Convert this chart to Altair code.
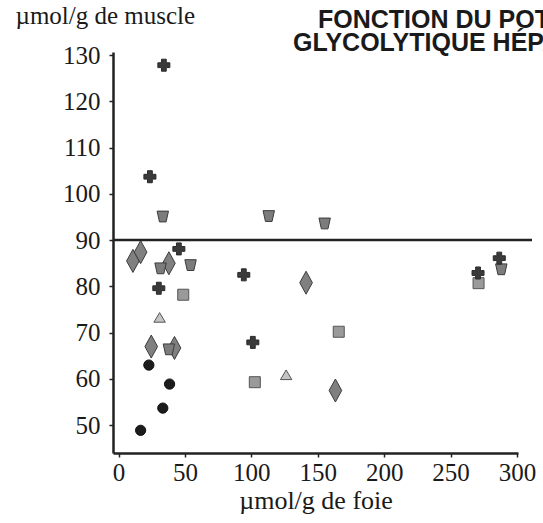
import altair as alt
import pandas as pd

# ---- data ----
cross_x = [34.1, 23.6, 45.4, 30.3, 94.3, 101.1, 270.7, 286.7]
cross_y = [127.8, 103.7, 88.1, 79.6, 82.5, 67.9, 82.9, 86.1]

tridown_x = [33.3, 113.1, 155.2, 31.6, 54.2, 37.9, 288.2]
tridown_y = [95.1, 95.2, 93.6, 83.9, 84.6, 66.4, 83.7]

diamond_x = [10.8, 16.6, 37.9, 24.6, 42.1, 141.2, 163.3]
diamond_y = [85.5, 87.4, 85.0, 67.0, 66.7, 80.8, 57.5]

square_x = [48.7, 165.8, 102.6, 271.1]
square_y = [78.2, 70.2, 59.3, 80.7]

triup_x = [30.9, 126.2]
triup_y = [73.3, 60.9]

circle_x = [22.8, 38.4, 33.3, 16.6]
circle_y = [63.0, 58.9, 53.7, 48.9]

threshold = [90]
y_ticks = [50, 60, 70, 80, 90, 100, 110, 120, 130]
x_ticks = [0, 50, 100, 150, 200, 250, 300]

x_title = "µmol/g de foie"
y_title = "µmol/g de muscle"
header = ["FONCTION DU POTENTIEL", "GLYCOLYTIQUE HÉPATIQUE"]

# ---- styling ----
W, H = 405, 401
SERIF = "Liberation Serif"
xscale = alt.Scale(domain=[-4.2, 300.8], nice=False, zero=False)
yscale = alt.Scale(domain=[44, 130.65], nice=False, zero=False)

CROSS = "M-0.4,-1H0.4V-0.4H1V0.4H0.4V1H-0.4V0.4H-1V-0.4H-0.4Z"
DIAMOND = "M0,-1L0.55,0L0,1L-0.55,0Z"
TRIDOWN = "M-0.95,-0.9L0.95,-0.9L0.55,0.9L-0.55,0.9Z"
TRIUP = "M0,-0.8L0.95,0.8L-0.95,0.8Z"

series = [
    (diamond_x, diamond_y, DIAMOND, 529, "#808080", "#3c3c3c"),
    (square_x, square_y, "square", 121, "#9a9a9a", "#555555"),
    (triup_x, triup_y, TRIUP, 144, "#c4c4c4", "#555555"),
    (tridown_x, tridown_y, TRIDOWN, 144, "#7c7c7c", "#3c3c3c"),
    (cross_x, cross_y, CROSS, 144, "#3a3a3a", "#2a2a2a"),
    (circle_x, circle_y, "circle", 105, "#1c1c1c", "#111111"),
]

x_axis = alt.Axis(
    values=x_ticks, grid=False, title=x_title, labelFont=SERIF, labelFontSize=25,
    titleFont=SERIF, titleFontSize=26, titleFontWeight="normal", labelColor="#1a1a1a",
    titleColor="#1a1a1a", domainColor="#222", domainWidth=2.5, tickColor="#222",
    tickWidth=1.5, tickSize=4, labelPadding=3, titleBaseline="alphabetic", titleY=55,
    labelFlush=False,
)
y_axis = alt.Axis(
    values=y_ticks, grid=False, title=y_title, labelFont=SERIF, labelFontSize=25,
    titleFont=SERIF, titleFontSize=25, titleFontWeight="normal", labelColor="#1a1a1a",
    titleColor="#1a1a1a", domainColor="#222", domainWidth=2.5, tickColor="#222",
    tickWidth=1.5, tickSize=4, labelPadding=9, titleAngle=0, titleAlign="left",
    titleBaseline="alphabetic", titleX=-98, titleY=-29, labelFlush=False,
)

layers = []
for xs, ys, shape, size, fill, stroke in series:
    df = pd.DataFrame({"x": xs, "y": ys})
    layers.append(
        alt.Chart(df).mark_point(
            shape=shape, size=size, filled=True, fill=fill, stroke=stroke,
            strokeWidth=1, opacity=1, clip=False,
        ).encode(
            x=alt.X("x:Q", scale=xscale, axis=x_axis),
            y=alt.Y("y:Q", scale=yscale, axis=y_axis),
        )
    )

rule = alt.Chart(pd.DataFrame({"y": threshold})).mark_rule(
    color="#222", strokeWidth=2.5
).encode(
    y=alt.Y("y:Q", scale=yscale, axis=y_axis),
    x=alt.value(0), x2=alt.value(419),
)

head1 = alt.Chart(pd.DataFrame({"t": [header[0]]})).mark_text(
    font="Liberation Sans", fontWeight="bold", fontSize=25, align="left",
    baseline="alphabetic", color="#1a1a1a",
).encode(text="t:N", x=alt.value(205), y=alt.value(-24))
head2 = alt.Chart(pd.DataFrame({"t": [header[1]]})).mark_text(
    font="Liberation Sans", fontWeight="bold", fontSize=25, align="left",
    baseline="alphabetic", color="#1a1a1a",
).encode(text="t:N", x=alt.value(180), y=alt.value(-1))

chart = alt.layer(*layers, rule, head1, head2).properties(
    width=W, height=H,
    background="white",
    autosize=alt.AutoSizeParams(type="none"),
    padding={"left": 113, "top": 52, "right": 25, "bottom": 70},
).configure_view(stroke=None)

chart.save("out.html", embed_options={"renderer": "svg", "actions": False})
